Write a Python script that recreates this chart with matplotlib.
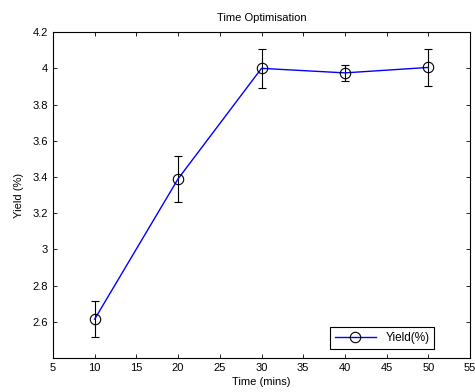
import numpy as np
import matplotlib.pyplot as plt

plt.rcParams['font.family'] = ['Liberation Sans', 'DejaVu Sans']

# Data
time_mins = [10, 20, 30, 40, 50]
yield_pct = [2.615, 3.39, 4.0, 3.975, 4.005]
yield_err = [0.10, 0.128, 0.107, 0.045, 0.10]

fig = plt.figure(figsize=(4.75, 3.92), dpi=100)
ax = fig.add_axes([0.1116, 0.0867, 0.8779, 0.8313])

ax.errorbar(time_mins, yield_pct, yerr=yield_err, fmt='none', ecolor='black',
            elinewidth=0.8, capsize=3, capthick=0.8)
ax.plot(time_mins, yield_pct, color='blue', lw=1, marker='o', ms=7.5,
        mfc='none', mec='black', mew=0.8, label='Yield(%)')

ax.set_xlim(5, 55)
ax.set_ylim(2.4, 4.2)
ax.set_xticks(np.arange(5, 56, 5))
ax.set_yticks([2.6, 2.8, 3.0, 3.2, 3.4, 3.6, 3.8, 4.0, 4.2])
ax.set_yticklabels(['2.6', '2.8', '3', '3.2', '3.4', '3.6', '3.8', '4', '4.2'])
ax.tick_params(direction='in', top=True, right=True, labelsize=8, length=3, width=0.6)
for s in ax.spines.values():
    s.set_linewidth(0.8)

ax.set_title('Time Optimisation', fontsize=8, pad=8)
ax.set_xlabel('Time (mins)', fontsize=8, labelpad=3)
ax.set_ylabel('Yield (%)', fontsize=8, labelpad=6)

leg = ax.legend(loc='lower right', bbox_to_anchor=(0.914, 0.028), borderaxespad=0,
                fontsize=8.5, fancybox=False, edgecolor='black', framealpha=1,
                handlelength=3.5)
leg.get_frame().set_linewidth(0.8)

fig.savefig('out.png', dpi=100)
